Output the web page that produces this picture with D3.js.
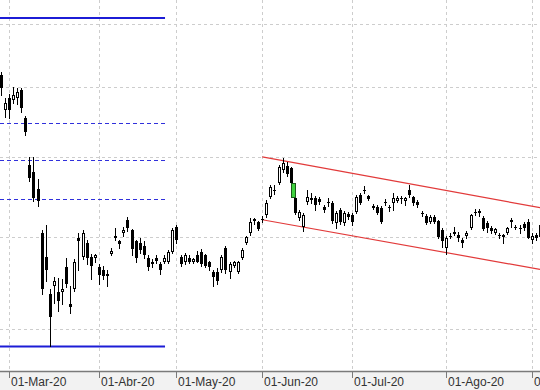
<!DOCTYPE html>
<html><head><meta charset="utf-8">
<script src="https://cdn.jsdelivr.net/npm/d3@7"></script>
<style>html,body{margin:0;padding:0;background:#fff;} svg{display:block}</style>
</head><body><svg id="c" width="540" height="390"></svg>
<script>
// ---------- DATA ----------
const tradingMonths = [
  {m:2, days:[27,28]},
  {m:3, days:[2,3,4,5,6,9,10,11,12,13,16,17,18,19,20,23,24,25,26,27,30,31]},
  {m:4, days:[1,2,3,6,7,8,14,15,16,17,20,21,22,23,24,27,28,29,30]},
  {m:5, days:[1,4,5,6,7,8,11,12,13,14,15,18,19,20,21,22,25,26,27,28,29]},
  {m:6, days:[1,2,3,4,5,8,9,10,11,12,15,16,17,18,19,22,23,24,25,26,29,30]},
  {m:7, days:[1,2,3,6,7,8,9,10,13,14,15,16,17,20,21,22,23,24,27,28,29,30,31]},
  {m:8, days:[3,4,5,6,7,10,11,12,13,14,17,18,19,20,21,24,25,26,27,28,31]},
  {m:9, days:[1,2,3]}
];
const openP = [9.183,8.662,8.837,8.807,8.837,8.957,8.547,7.901,7.808,7.590,
7.052,6.774,6.357,6.443,6.379,6.379,6.651,6.252,6.411,6.982,
6.774,6.935,6.774,6.752,6.651,6.628,6.584,6.808,7.017,6.947,
7.052,7.206,7.087,6.947,6.935,6.900,6.763,6.685,6.752,6.685,
6.718,6.718,6.830,7.122,6.774,6.707,6.763,6.718,6.797,6.830,
6.786,6.707,6.606,6.606,6.628,6.876,6.606,6.673,6.606,6.763,
6.935,7.052,7.194,7.182,7.219,7.267,7.489,7.578,7.667,7.835,
7.888,7.861,7.476,7.231,7.122,7.426,7.476,7.476,7.463,7.365,
7.426,7.414,7.170,7.328,7.170,7.280,7.267,7.304,7.514,7.578,
7.501,7.377,7.365,7.353,7.426,7.365,7.414,7.438,7.476,7.438,
7.578,7.489,7.426,7.292,7.255,7.182,7.243,7.194,7.087,6.876,
7.017,7.040,7.028,6.970,7.017,7.110,7.304,7.316,7.231,7.170,
7.110,7.052,7.028,7.028,7.052,7.206,7.122,7.110,7.158,7.182,
6.970,7.028,7.145];
const highP = [9.230,8.837,8.897,9.002,8.987,8.987,8.576,8.007,8.007,7.718,
7.087,7.145,6.411,6.551,6.540,6.529,6.763,6.443,6.741,7.052,
7.087,6.970,6.808,6.808,6.685,6.673,6.628,6.876,7.110,6.970,
7.122,7.243,7.099,6.970,6.982,6.947,6.786,6.741,6.786,6.718,
6.797,6.853,7.110,7.145,6.797,6.819,6.786,6.763,6.842,6.865,
6.808,6.729,6.628,6.640,6.797,6.900,6.718,6.729,6.729,6.876,
7.017,7.231,7.231,7.194,7.255,7.450,7.641,7.641,7.901,7.994,
7.941,7.875,7.489,7.328,7.292,7.578,7.540,7.501,7.489,7.389,
7.476,7.438,7.316,7.353,7.316,7.304,7.292,7.514,7.540,7.629,
7.514,7.402,7.389,7.377,7.463,7.389,7.540,7.501,7.501,7.489,
7.641,7.501,7.450,7.316,7.280,7.267,7.267,7.206,7.110,7.017,
7.052,7.122,7.064,6.993,7.075,7.280,7.341,7.341,7.255,7.194,
7.134,7.110,7.052,7.040,7.122,7.231,7.145,7.145,7.182,7.219,
7.052,7.052,7.182];
const lowP = [8.882,8.562,8.547,8.763,8.749,8.634,8.308,7.692,7.438,7.377,
6.357,6.497,5.827,6.272,6.179,6.252,6.432,6.159,6.389,6.628,
6.741,6.685,6.519,6.718,6.465,6.519,6.443,6.786,6.970,6.876,
7.017,7.075,6.797,6.718,6.819,6.763,6.628,6.662,6.696,6.584,
6.696,6.696,6.819,6.935,6.673,6.685,6.696,6.696,6.707,6.673,
6.651,6.628,6.443,6.465,6.606,6.595,6.540,6.651,6.595,6.741,
6.923,7.028,7.158,7.087,7.182,7.243,7.476,7.527,7.654,7.808,
7.756,7.654,7.280,7.206,7.075,7.402,7.414,7.328,7.402,7.304,
7.377,7.170,7.110,7.158,7.145,7.219,7.145,7.292,7.402,7.540,
7.450,7.341,7.280,7.170,7.389,7.316,7.328,7.426,7.414,7.389,
7.489,7.389,7.365,7.255,7.158,7.170,7.170,6.993,6.888,6.808,
6.982,7.028,6.947,6.888,6.993,7.099,7.267,7.255,7.087,7.064,
7.052,7.040,6.993,6.935,7.040,7.122,7.099,7.052,7.087,6.982,
6.935,6.970,6.993];
const closeP = [8.987,8.763,8.662,8.882,8.927,8.691,8.349,7.730,7.476,7.438,
6.411,6.628,6.117,6.497,6.283,6.411,6.465,6.221,6.718,6.947,
7.052,6.763,6.673,6.786,6.572,6.562,6.562,6.842,6.993,6.923,
7.087,7.110,6.865,6.763,6.853,6.786,6.651,6.718,6.729,6.628,
6.763,6.830,7.087,6.970,6.685,6.786,6.718,6.741,6.718,6.685,
6.673,6.651,6.551,6.497,6.774,6.628,6.685,6.707,6.707,6.853,
7.005,7.182,7.219,7.099,7.206,7.414,7.616,7.565,7.875,7.928,
7.782,7.667,7.292,7.304,7.267,7.489,7.450,7.389,7.426,7.328,
7.414,7.194,7.292,7.182,7.292,7.243,7.182,7.489,7.414,7.565,
7.463,7.353,7.292,7.182,7.414,7.353,7.476,7.476,7.463,7.476,
7.514,7.414,7.389,7.280,7.170,7.243,7.182,7.005,6.947,6.993,
7.005,7.064,6.993,6.935,7.052,7.267,7.292,7.292,7.099,7.110,
7.075,7.099,7.017,7.005,7.110,7.182,7.110,7.099,7.110,6.993,
7.017,6.993,7.005];

const gridPrices = [6, 7, 8, 9, 10];
const monthTicks = [
  {m:3, label:"01-Mar-20"}, {m:4, label:"01-Abr-20"}, {m:5, label:"01-May-20"},
  {m:6, label:"01-Jun-20"}, {m:7, label:"01-Jul-20"}, {m:8, label:"01-Ago-20"},
  {m:9, label:"01-Sep-20"}
];
const fibHigh = 10.10, fibLow = 5.827;
const fibRatios = [0.382, 0.5, 0.618];
const fibEndIndex = 40.2;
const channelUpper = [[64, 8.006], [132, 7.352]];
const channelLower = [[64, 7.205], [132, 6.630]];
const gapBox = {from: 71, to: 72, top: 7.667, bottom: 7.489};

// ---------- BUILD ----------
const dates = tradingMonths.flatMap(t => t.days.map(d => new Date(2020, t.m - 1, d)));
const candles = dates.map((d, i) => ({i, d, o: openP[i], h: highP[i], l: lowP[i], c: closeP[i]}));

const W = 540, H = 390, plotBottom = 371;
const svg = d3.select("#c");
const x = d3.scaleLinear().domain([-0.2, 132]).range([0, W]);
const y = d3.scaleLog().domain([10, 6]).range([24, 329]);

svg.append("rect").attr("width", W).attr("height", H).attr("fill", "#ffffff");

const tickIdx = monthTicks.map(t => ({...t, i: dates.findIndex(d => d.getMonth() === t.m - 1)}));

// grid
const grid = svg.append("g").attr("stroke", "#cdcdcd").attr("stroke-width", 1).attr("stroke-dasharray", "3,3").attr("shape-rendering", "crispEdges");
grid.selectAll("line.h").data(gridPrices).join("line")
  .attr("x1", 0).attr("x2", W)
  .attr("y1", p => Math.round(y(p)) + 0.5).attr("y2", p => Math.round(y(p)) + 0.5);
grid.selectAll("line.v").data(tickIdx).join("line")
  .attr("x1", t => Math.round(x(t.i)) + 0.5).attr("x2", t => Math.round(x(t.i)) + 0.5)
  .attr("y1", 0).attr("y2", plotBottom);

// fibonacci
const xStart = x.range()[0];
const xFibEnd = x(fibEndIndex);
svg.selectAll("line.fibS").data([fibHigh, fibLow]).join("line")
  .attr("x1", xStart).attr("x2", xFibEnd)
  .attr("y1", p => y(p)).attr("y2", p => y(p))
  .attr("stroke", "#1c1cd6").attr("stroke-width", 2);
svg.selectAll("line.fibD").data(fibRatios).join("line")
  .attr("x1", xStart).attr("x2", xFibEnd)
  .attr("y1", r => Math.round(y(fibHigh - r * (fibHigh - fibLow))) + 0.5)
  .attr("y2", r => Math.round(y(fibHigh - r * (fibHigh - fibLow))) + 0.5)
  .attr("stroke", "#3030dc").attr("stroke-width", 1).attr("stroke-dasharray", "4,3")
  .attr("shape-rendering", "crispEdges");

// channel
svg.selectAll("line.ch").data([channelUpper, channelLower]).join("line")
  .attr("x1", c => x(c[0][0])).attr("y1", c => y(c[0][1]))
  .attr("x2", c => x(c[1][0])).attr("y2", c => y(c[1][1]))
  .attr("stroke", "#e23a3a").attr("stroke-width", 1.2);

// candles
const cg = svg.append("g").attr("shape-rendering", "crispEdges");
candles.forEach(k => {
  const left = Math.round(x(k.i)) - 1;
  const up = k.c >= k.o;
  const yt = Math.round(y(Math.max(k.o, k.c)));
  const yb = Math.round(y(Math.min(k.o, k.c)));
  cg.append("line").attr("x1", left + 1.5).attr("x2", left + 1.5)
    .attr("y1", Math.round(y(k.h))).attr("y2", Math.round(y(k.l)) + 1)
    .attr("stroke", "#000").attr("stroke-width", 1);
  const hgt = Math.max(1, yb - yt);
  if (up && hgt >= 3) {
    cg.append("rect").attr("x", left + 0.5).attr("y", yt + 0.5).attr("width", 2).attr("height", hgt - 1)
      .attr("fill", "#fff").attr("stroke", "#000").attr("stroke-width", 1);
  } else {
    cg.append("rect").attr("x", left).attr("y", yt).attr("width", 3).attr("height", hgt).attr("fill", "#000");
  }
});

// gap box
const gx = (x(gapBox.from) + x(gapBox.to)) / 2;
svg.append("rect")
  .attr("x", Math.round(gx) - 2 + 0.5).attr("y", Math.round(y(gapBox.top)) + 0.5)
  .attr("width", 4).attr("height", Math.round(y(gapBox.bottom)) - Math.round(y(gapBox.top)))
  .attr("fill", "#3fd23f").attr("stroke", "#1a5a1a").attr("stroke-width", 1).attr("shape-rendering", "crispEdges");

// axis
svg.append("rect").attr("x", 0).attr("y", plotBottom).attr("width", W).attr("height", H - plotBottom).attr("fill", "#f2f2f2");
svg.append("line").attr("x1", 0).attr("x2", W).attr("y1", plotBottom + 0.5).attr("y2", plotBottom + 0.5)
  .attr("stroke", "#7a7a7a").attr("stroke-width", 1.5);
const ax = svg.append("g");
ax.selectAll("line").data(tickIdx).join("line")
  .attr("x1", t => Math.round(x(t.i)) + 0.5).attr("x2", t => Math.round(x(t.i)) + 0.5)
  .attr("y1", plotBottom).attr("y2", plotBottom + 7)
  .attr("stroke", "#7a7a7a").attr("stroke-width", 1);
ax.selectAll("text").data(tickIdx).join("text")
  .attr("x", t => Math.round(x(t.i)) + 2).attr("y", 386)
  .attr("font-family", "'Liberation Sans', Arial, sans-serif").attr("font-size", 12)
  .attr("fill", "#333").text(t => t.label);
</script></body></html>
